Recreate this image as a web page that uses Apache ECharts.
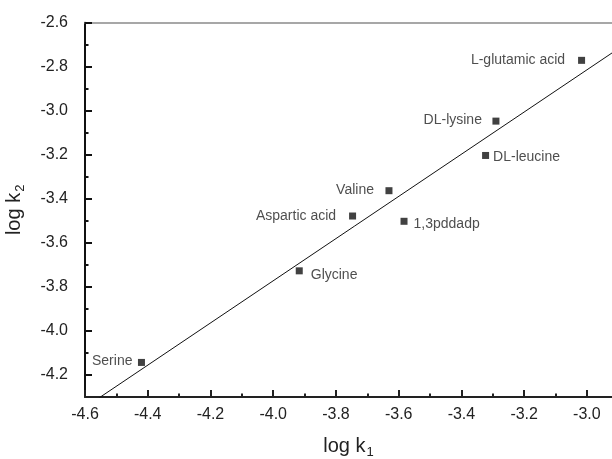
<!DOCTYPE html>
<html><head><meta charset="utf-8">
<script src="https://cdn.jsdelivr.net/npm/echarts@6/dist/echarts.min.js"></script>
<style>html,body{margin:0;padding:0;background:#fff}#c{width:612px;height:459px}</style>
</head><body><div id="c"></div>
<script>
// ---- data ----
const names = ['Serine', 'Glycine', 'Aspartic acid', 'Valine', '1,3pddadp', 'DL-leucine', 'DL-lysine', 'L-glutamic acid'];
const logK1 = [-4.42, -3.917, -3.747, -3.631, -3.583, -3.323, -3.29, -3.017];
const logK2 = [-4.143, -3.727, -3.478, -3.363, -3.502, -3.203, -3.047, -2.771];
const xMajorTicks = [-4.6, -4.4, -4.2, -4.0, -3.8, -3.6, -3.4, -3.2, -3.0];
const xMinorTicks = [-4.5, -4.3, -4.1, -3.9, -3.7, -3.5, -3.3, -3.1];
const yMajorTicks = [-4.2, -4.0, -3.8, -3.6, -3.4, -3.2, -3.0, -2.8, -2.6];
const yMinorTicks = [-4.1, -3.9, -3.7, -3.5, -3.3, -3.1, -2.9, -2.7];

// ---- least-squares fit of the points ----
const n = logK1.length;
const mx = logK1.reduce((a, b) => a + b, 0) / n;
const my = logK2.reduce((a, b) => a + b, 0) / n;
let sxy = 0, sxx = 0;
for (let i = 0; i < n; i++) { sxy += (logK1[i] - mx) * (logK2[i] - my); sxx += (logK1[i] - mx) ** 2; }
const slope = sxy / sxx, intercept = my - slope * mx;
const X_MIN = -4.6, X_MAX = -2.92, Y_MIN = -4.3, Y_MAX = -2.6;
const fitLine = [[X_MIN, intercept + slope * X_MIN], [X_MAX, intercept + slope * X_MAX]];

// ---- label placement (style, not data) ----
const labelStyle = {
  'Serine': { position: 'left', distance: 5.5, offset: [0, -1] },
  'Glycine': { position: 'right', distance: 8, offset: [0, 4] },
  'Aspartic acid': { position: 'left', distance: 13, offset: [0, 0] },
  'Valine': { position: 'left', distance: 11.5, offset: [0, -1] },
  '1,3pddadp': { position: 'right', distance: 6, offset: [0, 2.5] },
  'DL-leucine': { position: 'right', distance: 4, offset: [0, 2] },
  'DL-lysine': { position: 'left', distance: 10.5, offset: [0, -1] },
  'L-glutamic acid': { position: 'left', distance: 13, offset: [0, 0] }
};

const FONT = 'Liberation Sans, Arial, sans-serif';
const chart = echarts.init(document.getElementById('c'), null, { renderer: 'canvas' });
const fmt = v => v.toFixed(1);

chart.setOption({
  animation: false,
  backgroundColor: '#fff',
  textStyle: { fontFamily: FONT },
  grid: { left: 85, top: 22.7, right: 0, bottom: 62, containLabel: false, outerBoundsMode: 'none' },
  xAxis: [
    {
      type: 'value', min: X_MIN, max: X_MAX, position: 'bottom',
      axisLine: { show: true, onZero: false, lineStyle: { color: '#222', width: 2 } },
      axisTick: { show: true, inside: true, length: 7, customValues: xMajorTicks, lineStyle: { color: '#222', width: 2 } },
      axisLabel: { customValues: xMajorTicks, formatter: fmt, fontSize: 16, color: '#222', margin: 10, fontFamily: FONT },
      splitLine: { show: false },
      name: 'log k{s|1}', nameLocation: 'middle', nameGap: 37,
      nameTextStyle: { fontSize: 20, color: '#222', fontFamily: FONT, rich: { s: { fontSize: 13, color: '#222', padding: [12, 0, 0, 1], fontFamily: FONT } } }
    },
    {
      type: 'value', min: X_MIN, max: X_MAX, position: 'bottom',
      axisLine: { show: false },
      axisTick: { show: true, inside: true, length: 3.5, customValues: xMinorTicks, lineStyle: { color: '#222', width: 2 } },
      axisLabel: { show: false }, splitLine: { show: false }
    },
    {
      type: 'value', min: X_MIN, max: X_MAX, position: 'top',
      axisLine: { show: true, onZero: false, lineStyle: { color: '#8a8a8a', width: 1.5 } },
      axisTick: { show: false }, axisLabel: { show: false }, splitLine: { show: false }
    }
  ],
  yAxis: [
    {
      type: 'value', min: Y_MIN, max: Y_MAX, position: 'left',
      axisLine: { show: true, onZero: false, lineStyle: { color: '#111', width: 2 } },
      axisTick: { show: true, inside: true, length: 7, customValues: yMajorTicks, lineStyle: { color: '#111', width: 2 } },
      axisLabel: { customValues: yMajorTicks, formatter: fmt, fontSize: 16, color: '#222', margin: 17, fontFamily: FONT },
      splitLine: { show: false },
      name: 'log k{s|2}', nameLocation: 'middle', nameGap: 58,
      nameTextStyle: { fontSize: 20, color: '#222', fontFamily: FONT, rich: { s: { fontSize: 13, color: '#222', padding: [12, 0, 0, 1], fontFamily: FONT } } }
    },
    {
      type: 'value', min: Y_MIN, max: Y_MAX, position: 'left',
      axisLine: { show: false },
      axisTick: { show: true, inside: true, length: 3.5, customValues: yMinorTicks, lineStyle: { color: '#111', width: 2 } },
      axisLabel: { show: false }, splitLine: { show: false }
    }
  ],
  series: [
    {
      type: 'line', xAxisIndex: 0, yAxisIndex: 0,
      data: fitLine, showSymbol: false, symbol: 'none', clip: true,
      lineStyle: { color: '#111', width: 1 }, silent: true, z: 2
    },
    {
      type: 'scatter', xAxisIndex: 0, yAxisIndex: 0,
      symbol: 'rect', symbolSize: 7, z: 3,
      itemStyle: { color: '#111' },
      data: names.map((nm, i) => ({
        name: nm, value: [logK1[i], logK2[i]],
        label: Object.assign({ show: true, formatter: nm, fontSize: 14, color: '#222', fontFamily: FONT }, labelStyle[nm])
      }))
    }
  ]
});
</script></body></html>
